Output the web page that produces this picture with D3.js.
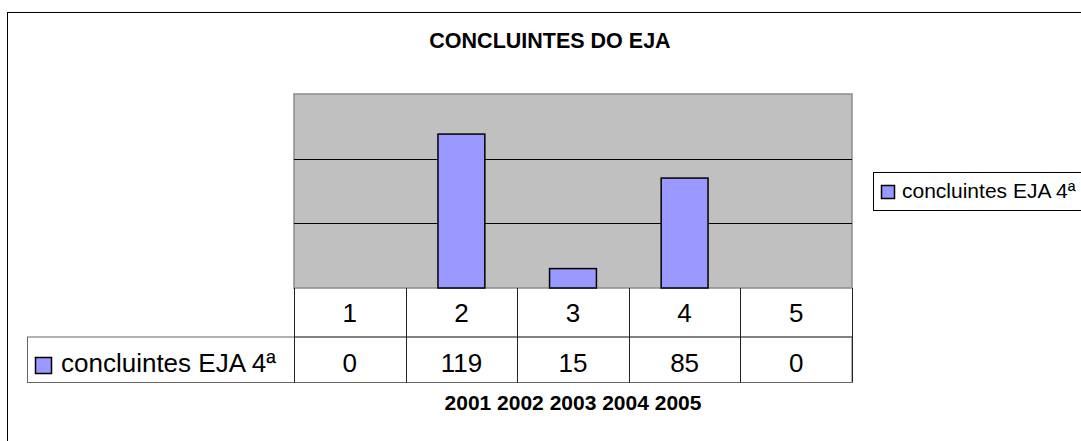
<!DOCTYPE html>
<html>
<head>
<meta charset="utf-8">
<script src="https://cdn.jsdelivr.net/npm/d3@7"></script>
<style>
  body { margin: 0; background: #fff; }
  svg { display: block; font-family: "Liberation Sans", Arial, sans-serif; }
</style>
</head>
<body>
<div id="chart"></div>
<script>
const title = "CONCLUINTES DO EJA";
const seriesName = "concluintes EJA 4ª";
const categories = ["1", "2", "3", "4", "5"];
const values = [0, 119, 15, 85, 0];
const years = ["2001", "2002", "2003", "2004", "2005"];
const yTicks = [50, 100];

const width = 1081, height = 441;
const plot = { left: 294, right: 852, top: 94, bottom: 288 };

const data = categories.map((c, i) => ({ cat: c, value: values[i] }));

const svg = d3.select("#chart").append("svg")
    .attr("width", width)
    .attr("height", height);

// outer chart border (runs off the right and bottom edge)
svg.append("rect")
    .attr("x", 7.5).attr("y", 12.5)
    .attr("width", 1100).attr("height", 460)
    .attr("fill", "#fff").attr("stroke", "#000");

const xScale = d3.scaleBand()
    .domain(categories)
    .range([plot.left, plot.right])
    .padding(0);

const yScale = d3.scaleLinear()
    .domain([0, 150])
    .range([plot.bottom, plot.top]);

// plot area
svg.append("rect")
    .attr("x", plot.left).attr("y", plot.top)
    .attr("width", plot.right - plot.left).attr("height", plot.bottom - plot.top)
    .attr("fill", "#c0c0c0").attr("stroke", "#8c8c8c").attr("stroke-width", 1.5);

svg.append("g")
    .selectAll("line")
    .data(yTicks)
    .join("line")
    .attr("x1", plot.left).attr("x2", plot.right)
    .attr("y1", d => Math.round(yScale(d)) + 0.5)
    .attr("y2", d => Math.round(yScale(d)) + 0.5)
    .attr("stroke", "#000");

const barW = xScale.bandwidth() * 0.42;
svg.append("g")
    .selectAll("rect")
    .data(data.filter(d => d.value > 0))
    .join("rect")
    .attr("x", d => xScale(d.cat) + (xScale.bandwidth() - barW) / 2)
    .attr("y", d => yScale(d.value))
    .attr("width", barW)
    .attr("height", d => yScale(0) - yScale(d.value))
    .attr("fill", "#9999ff")
    .attr("stroke", "#000")
    .attr("stroke-width", 1.5);

// title
svg.append("text")
    .attr("x", 550).attr("y", 48)
    .attr("text-anchor", "middle")
    .attr("font-size", 21.5).attr("font-weight", "bold")
    .text(title);

// data table
const rowTop = plot.bottom, rowMid = 337, rowBot = 382.5, labelLeft = 27.5;
const table = svg.append("g");

table.append("rect")
    .attr("x", labelLeft).attr("y", rowMid)
    .attr("width", plot.right - labelLeft).attr("height", rowBot - rowMid)
    .attr("fill", "none").attr("stroke", "#666");

table.append("line")
    .attr("x1", plot.left).attr("x2", plot.right)
    .attr("y1", rowMid).attr("y2", rowMid)
    .attr("stroke", "#555");

table.selectAll("line.col")
    .data(categories.concat(["end"]))
    .join("line")
    .attr("class", "col")
    .attr("x1", d => Math.round(d === "end" ? plot.right : xScale(d)) + 0.5)
    .attr("x2", d => Math.round(d === "end" ? plot.right : xScale(d)) + 0.5)
    .attr("y1", rowTop).attr("y2", rowBot)
    .attr("stroke", "#222");

table.selectAll("text.cat")
    .data(categories)
    .join("text")
    .attr("class", "cat")
    .attr("x", d => xScale(d) + xScale.bandwidth() / 2)
    .attr("y", 322)
    .attr("text-anchor", "middle")
    .attr("font-size", 26)
    .text(d => d);

table.selectAll("text.val")
    .data(data)
    .join("text")
    .attr("class", "val")
    .attr("x", d => xScale(d.cat) + xScale.bandwidth() / 2)
    .attr("y", 372)
    .attr("text-anchor", "middle")
    .attr("font-size", 26)
    .text(d => d.value);

table.append("rect")
    .attr("x", 35.5).attr("y", 357.5)
    .attr("width", 16).attr("height", 16)
    .attr("fill", "#9999ff").attr("stroke", "#000").attr("stroke-width", 1.5);

table.append("text")
    .attr("x", 61).attr("y", 372)
    .attr("font-size", 26)
    .text(seriesName);

// years under the table
svg.append("text")
    .attr("x", (plot.left + plot.right) / 2).attr("y", 410)
    .attr("text-anchor", "middle")
    .attr("font-size", 21).attr("font-weight", "bold")
    .text(years.join(" "));

// legend (box runs off the right edge)
const legend = svg.append("g");
legend.append("rect")
    .attr("x", 873.5).attr("y", 172.5)
    .attr("width", 260).attr("height", 38)
    .attr("fill", "#fff").attr("stroke", "#000");
legend.append("rect")
    .attr("x", 881.5).attr("y", 185.5)
    .attr("width", 13).attr("height", 13)
    .attr("fill", "#9999ff").attr("stroke", "#000").attr("stroke-width", 1.5);
legend.append("text")
    .attr("x", 902).attr("y", 198)
    .attr("font-size", 21)
    .text(seriesName);
</script>
</body>
</html>
